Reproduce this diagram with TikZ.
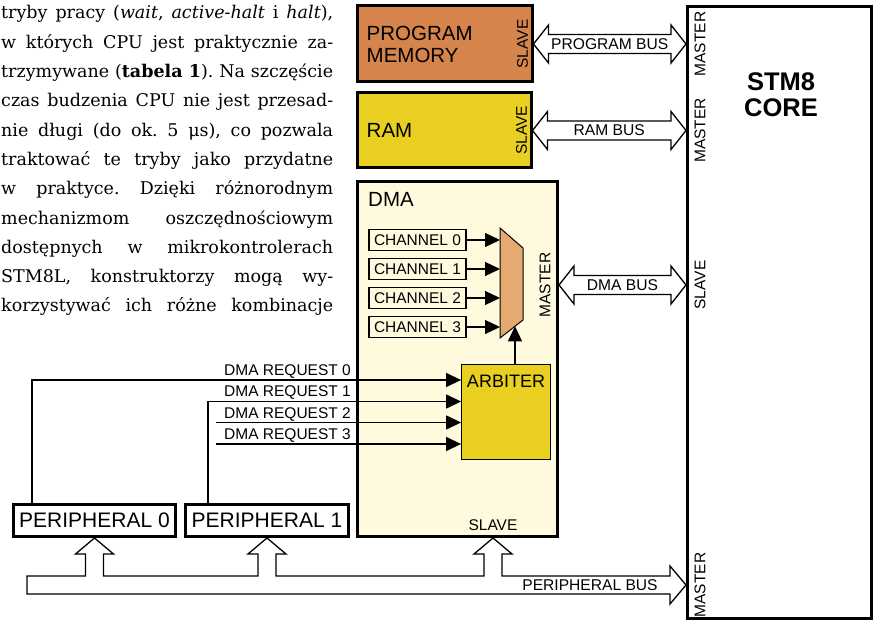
\documentclass[tikz,border=0pt]{standalone}
\usepackage{fontspec}
\setmainfont{DejaVu Serif}
\setsansfont{Liberation Sans}
\usetikzlibrary{arrows.meta,positioning,calc}
\frenchspacing

\definecolor{pmorange}{RGB}{213,132,75}
\definecolor{ramyellow}{RGB}{232,207,32}
\definecolor{dmacream}{RGB}{255,250,222}
\definecolor{muxorange}{RGB}{229,170,112}

% two-headed bus between two points at the same height
\newcommand{\twowaybus}[2]{%
  \draw[bus] (#1) -- ++(15,19) -- ++(0,-9.5) -- ($(#2)+(-15,9.5)$) -- ++(0,9.5)
    -- (#2) -- ++(-15,-19) -- ++(0,9.5) -- ($(#1)+(15,-9.5)$) -- ++(0,-9.5) -- cycle;}

\begin{document}
\begin{tikzpicture}[
    x=1pt, y=1pt,
    thickbox/.style={draw, rectangle, line width=3pt, inner sep=0pt},
    thinbox/.style={draw, rectangle, line width=1.3pt, inner sep=0pt},
    bigtxt/.style={font=\sffamily\fontsize{20.5}{22}\selectfont, inner sep=0pt, align=left},
    midtxt/.style={font=\sffamily\fontsize{18}{20}\selectfont, inner sep=0pt},
    port/.style={font=\sffamily\fontsize{15.5}{17}\selectfont, inner sep=0pt},
    chan/.style={thinbox, minimum width=97pt, minimum height=21.5pt,
        font=\sffamily\fontsize{15.5}{17}\selectfont},
    periph/.style={thickbox, minimum width=162pt, minimum height=32pt,
        font=\sffamily\fontsize{21}{22}\selectfont},
    buslbl/.style={font=\sffamily\fontsize{15.6}{17}\selectfont, inner sep=0pt},
    reqlbl/.style={font=\sffamily\fontsize{15.5}{17}\selectfont, inner sep=0pt, anchor=base east},
    bus/.style={draw, fill=white, line width=1.3pt},
    sig/.style={line width=1.3pt, -{Triangle[length=15pt, width=14pt]}},
    txtline/.style={font=\fontsize{17.5}{20}\selectfont, inner sep=0pt, anchor=base west},
]
\useasboundingbox (0,0) rectangle (876,622);

% Article text
\node[txtline] (txt1) at (1,603) {\makebox[332pt][s]{tryby pracy (\textit{wait}, \textit{active-halt} i \textit{halt}),}};
\node[txtline] (txt2) at (1,573.7) {\makebox[332pt][s]{w których CPU jest praktycznie za-}};
\node[txtline] (txt3) at (1,544.4) {\makebox[332pt][s]{trzymywane (\textbf{tabela 1}). Na szczęście}};
\node[txtline] (txt4) at (1,515.1) {\makebox[332pt][s]{czas budzenia CPU nie jest przesad-}};
\node[txtline] (txt5) at (1,485.8) {\makebox[332pt][s]{nie długi (do ok. 5 μs), co pozwala}};
\node[txtline] (txt6) at (1,456.5) {\makebox[332pt][s]{traktować te tryby jako przydatne}};
\node[txtline] (txt7) at (1,427.2) {\makebox[332pt][s]{w praktyce. Dzięki różnorodnym}};
\node[txtline] (txt8) at (1,397.9) {\makebox[332pt][s]{mechanizmom oszczędnościowym}};
\node[txtline] (txt9) at (1,368.6) {\makebox[332pt][s]{dostępnych w mikrokontrolerach}};
\node[txtline] (txt10) at (1,339.3) {\makebox[332pt][s]{STM8L, konstruktorzy mogą wy-}};
\node[txtline] (txt11) at (1,310) {\makebox[332pt][s]{korzystywać ich różne kombinacje}};

% Program memory
\node[thickbox, fill=pmorange, minimum width=175pt, minimum height=76pt] (pm) at (444.5,578) {};
\node[bigtxt, anchor=west] (pmtxt) at ([xshift=11pt]pm.west) {PROGRAM\\MEMORY};
\node[port, rotate=90] (pmslave) at ([xshift=-11pt]pm.east) {SLAVE};

% RAM
\node[thickbox, fill=ramyellow, minimum width=174pt, minimum height=75pt] (ram) at (444,491.5) {};
\node[bigtxt, anchor=west] (ramtxt) at ([xshift=11pt]ram.west) {RAM};
\node[port, rotate=90] (ramslave) at ([xshift=-11pt]ram.east) {SLAVE};

% DMA
\node[thickbox, fill=dmacream, minimum width=200pt, minimum height=355pt] (dma) at (457.5,263) {};
\node[bigtxt, anchor=west] (dmatxt) at (368,423) {DMA};
\node[port, rotate=90] (dmamaster) at (545,337) {MASTER};
\node[port] (dmaslave) at (493,97) {SLAVE};

% Channels
\node[chan] (ch0) at (417.5,382) {CHANNEL 0};
\node[chan] (ch1) at (417.5,353) {CHANNEL 1};
\node[chan] (ch2) at (417.5,324) {CHANNEL 2};
\node[chan] (ch3) at (417.5,295) {CHANNEL 3};

% Multiplexer
\node[minimum width=23pt, minimum height=110pt, inner sep=0pt, outer sep=0pt] (mux) at (511.5,339) {};
\filldraw[fill=muxorange, line width=1pt] (mux.north west) -- ([yshift=-20pt]mux.north east)
    -- ([yshift=18pt]mux.south east) -- (mux.south west) -- cycle;

% Arbiter
\node[thinbox, fill=ramyellow, minimum width=88.5pt, minimum height=94.5pt] (arb) at (506,210) {};
\node[midtxt, anchor=north] (arbtxt) at ([yshift=-10.5pt]arb.north) {ARBITER};

% Core
\node[thickbox, minimum width=184pt, minimum height=612pt] (core) at (779.5,309.5) {};
\node[font=\sffamily\bfseries\fontsize{25.5}{26}\selectfont, align=center, inner sep=0pt] (coretitle) at (781,527) {STM8\\CORE};

% Peripherals
\node[periph] (per0) at (94.5,101.5) {PERIPHERAL 0};
\node[periph, minimum width=163pt] (per1) at (267,101.5) {PERIPHERAL 1};

% Buses
\twowaybus{pm.east}{pm.east -| core.west}
\path (pm.east) -- node[buslbl] (pmbus) {PROGRAM BUS} (pm.east -| core.west);
\twowaybus{ram.east}{ram.east -| core.west}
\path (ram.east) -- node[buslbl] (rambus) {RAM BUS} (ram.east -| core.west);
\twowaybus{dmamaster -| dma.east}{dmamaster -| core.west}
\path (dmamaster -| dma.east) -- node[buslbl] (dmabus) {DMA BUS} (dmamaster -| core.west);

\coordinate (pbusL) at (27,37);
\coordinate (pbusR) at (pbusL -| core.west);
\draw[bus] ($(pbusL)+(0,-9)$) -- ($(pbusR)+(-16,-9)$) -- ++(0,-10) -- (pbusR) -- ++(-16,19) -- ++(0,-10)
    -- ($(dmaslave |- dma.south)+(9,-38)$) -- ++(0,22) -- ++(10,0) -- (dmaslave |- dma.south)
    -- ++(-19,-16) -- ++(10,0) -- ++(0,-22)
    -- ($(per1.south)+(9,-38)$) -- ++(0,22) -- ++(10,0) -- (per1.south)
    -- ++(-19,-16) -- ++(10,0) -- ++(0,-22)
    -- ($(per0.south)+(9,-38)$) -- ++(0,22) -- ++(10,0) -- (per0.south)
    -- ++(-19,-16) -- ++(10,0) -- ++(0,-22)
    -- ($(pbusL)+(0,9)$) -- cycle;
\node[buslbl] (pbuslbl) at (590,37) {PERIPHERAL BUS};

% Core ports
\node[port, rotate=90] (cm0) at ($(core.west |- pm.east)+(14,0)$) {MASTER};
\node[port, rotate=90] (cm1) at ($(core.west |- ram.east)+(14,0)$) {MASTER};
\node[port, rotate=90] (cs2) at ($(core.west |- dmamaster)+(14,0)$) {SLAVE};
\node[port, rotate=90] (cm3) at ($(core.west |- pbusL)+(14,0)$) {MASTER};

% Channel and arbiter signals
\draw[sig] (ch0) -- (ch0 -| mux.west);
\draw[sig] (ch1) -- (ch1 -| mux.west);
\draw[sig] (ch2) -- (ch2 -| mux.west);
\draw[sig] (ch3) -- (ch3 -| mux.west);
\coordinate (muxin) at ($(mux.south west)!0.652!([yshift=18pt]mux.south east)$);
\draw[sig] (arb.north -| muxin) -- (muxin);

% DMA requests
\coordinate (req0) at ([yshift=32pt]arb.west);
\coordinate (req1) at ([yshift=10.5pt]arb.west);
\coordinate (req2) at ([yshift=-10.5pt]arb.west);
\coordinate (req3) at ([yshift=-32pt]arb.west);
\coordinate (reqsrc) at (216,0);
\coordinate (reqend) at (351,0);
\draw[sig] ([xshift=-62.5pt]per0.north) |- (req0);
\draw[sig] ([xshift=-59pt]per1.north) |- (req1);
\draw[sig] (reqsrc |- req2) -- (req2);
\draw[sig] (reqsrc |- req3) -- (req3);
\node[reqlbl] (req0lbl) at ($(reqend |- req0)+(0,4.5)$) {DMA REQUEST 0};
\node[reqlbl] (req1lbl) at ($(reqend |- req1)+(0,4.5)$) {DMA REQUEST 1};
\node[reqlbl] (req2lbl) at ($(reqend |- req2)+(0,4.5)$) {DMA REQUEST 2};
\node[reqlbl] (req3lbl) at ($(reqend |- req3)+(0,4.5)$) {DMA REQUEST 3};

\end{tikzpicture}
\end{document}
